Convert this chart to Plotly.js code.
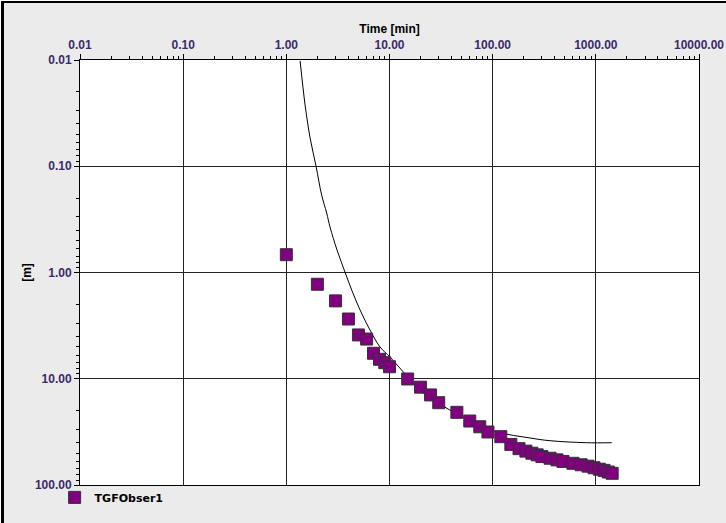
<!DOCTYPE html>
<html>
<head>
<meta charset="utf-8">
<script src="https://cdn.plot.ly/plotly-3.0.1.min.js"></script>
<style>
  html, body { margin: 0; padding: 0; background: #ffffff; }
  #frame { position: absolute; left: 1px; top: 1px; width: 722px; height: 520px;
           border-left: 3px solid #000; border-top: 2px solid #000; background: #ebebeb; }
  #chart { width: 722px; height: 520px; }
</style>
</head>
<body>
<div id="frame"><div id="chart"></div></div>
<script>
// Observed data (time in min, value in m)
const obsTime = [1, 2, 3, 4, 5, 6, 7, 8, 9, 10, 15, 20, 25, 30, 45, 60, 75, 90, 120,
                 150, 180, 210, 240, 270, 300, 360, 420, 480, 600, 720, 840, 960, 1080, 1200, 1320, 1440];
const obsValue = [0.68, 1.29, 1.85, 2.74, 3.87, 4.23, 5.76, 6.56, 7.06, 7.71, 10.05, 12.0, 14.2, 16.8, 20.7, 25.0, 28.3, 31.7, 35.1,
                  41.5, 45.5, 48.0, 50.2, 52.0, 54.0, 56.0, 58.0, 60.0, 62.5, 64.5, 66.5, 68.8, 71.0, 72.8, 75.5, 77.6];
const obsName = "TGFObser1";

// Fitted curve
const curveTime = [1.36, 1.52, 1.70, 1.94, 2.20, 2.46, 2.65, 3.10, 3.70, 4.30, 5.18, 6.47, 8.09, 10.1, 13.1, 20, 38.5, 60, 109, 230, 360, 815, 1426];
const curveValue = [0.0102, 0.0265, 0.0542, 0.0995, 0.187, 0.275, 0.373, 0.614, 0.989, 1.46, 2.25, 3.48, 5.02, 6.24, 8.28, 13.0, 19.7, 24.5, 31.5, 36.1, 38.3, 40.0, 40.0];

const xTickVals = [0.01, 0.1, 1, 10, 100, 1000, 10000];
const xTickText = ["0.01", "0.10", "1.00", "10.00", "100.00", "1000.00", "10000.00"];
const yTickVals = [0.01, 0.1, 1, 10, 100];
const yTickText = ["0.01", "0.10", "1.00", "10.00", "100.00"];

function minorVals(lo, hi) {
  const out = [];
  for (let e = lo; e < hi; e++) for (let m = 2; m <= 9; m++) out.push(m * Math.pow(10, e));
  return out;
}

const tickFont = { family: "Liberation Sans, Arial, sans-serif", size: 12, color: "#3a2a6a", weight: "bold" };

const traces = [
  {
    x: curveTime, y: curveValue, type: "scatter", mode: "lines",
    line: { color: "#000000", width: 1, shape: "spline" },
    showlegend: false, hoverinfo: "skip"
  },
  {
    x: obsTime, y: obsValue, type: "scatter", mode: "markers", name: obsName,
    marker: { symbol: "square", size: 12, color: "#800080", line: { color: "#333333", width: 1 } }
  }
];

const layout = {
  width: 722, height: 520,
  paper_bgcolor: "#ebebeb", plot_bgcolor: "#ffffff",
  margin: { l: 76, r: 27, t: 57, b: 38, autoexpand: false },
  showlegend: true,
  legend: {
    x: -0.041, xanchor: "left", y: 0.005, yanchor: "top",
    bgcolor: "rgba(0,0,0,0)", itemwidth: 30,
    font: { family: "DejaVu Sans, Verdana, sans-serif", size: 11, color: "#000000", weight: "bold" }
  },
  xaxis: {
    type: "log", range: [-2, 4], side: "top",
    tickvals: xTickVals, ticktext: xTickText, tickfont: tickFont,
    ticklabeloverflow: "allow",
    ticks: "outside", ticklen: 5, tickcolor: "#000",
    showgrid: true, gridcolor: "#222222", gridwidth: 1,
    showline: true, linecolor: "#000", linewidth: 1, mirror: true,
    zeroline: false,
    minor: { tickvals: minorVals(-2, 4), ticks: "outside", ticklen: 3, tickcolor: "#000", showgrid: false },
    title: { text: "Time [min]", standoff: 2,
             font: { family: "Liberation Sans, Arial, sans-serif", size: 12, color: "#000", weight: "bold" } }
  },
  yaxis: {
    type: "log", range: [2, -2],
    tickvals: yTickVals, ticktext: yTickText, tickfont: tickFont,
    ticklabeloverflow: "allow",
    ticks: "outside", ticklen: 5, tickcolor: "#000",
    showgrid: true, gridcolor: "#222222", gridwidth: 1,
    showline: true, linecolor: "#000", linewidth: 1, mirror: true,
    zeroline: false,
    minor: { tickvals: minorVals(-2, 2), ticks: "outside", ticklen: 3, tickcolor: "#000", showgrid: false },
    title: { text: "[m]", standoff: 0,
             font: { family: "Liberation Sans, Arial, sans-serif", size: 12, color: "#000", weight: "bold" } }
  }
};

Plotly.newPlot("chart", traces, layout, { displayModeBar: false, staticPlot: true });
</script>
</body>
</html>
